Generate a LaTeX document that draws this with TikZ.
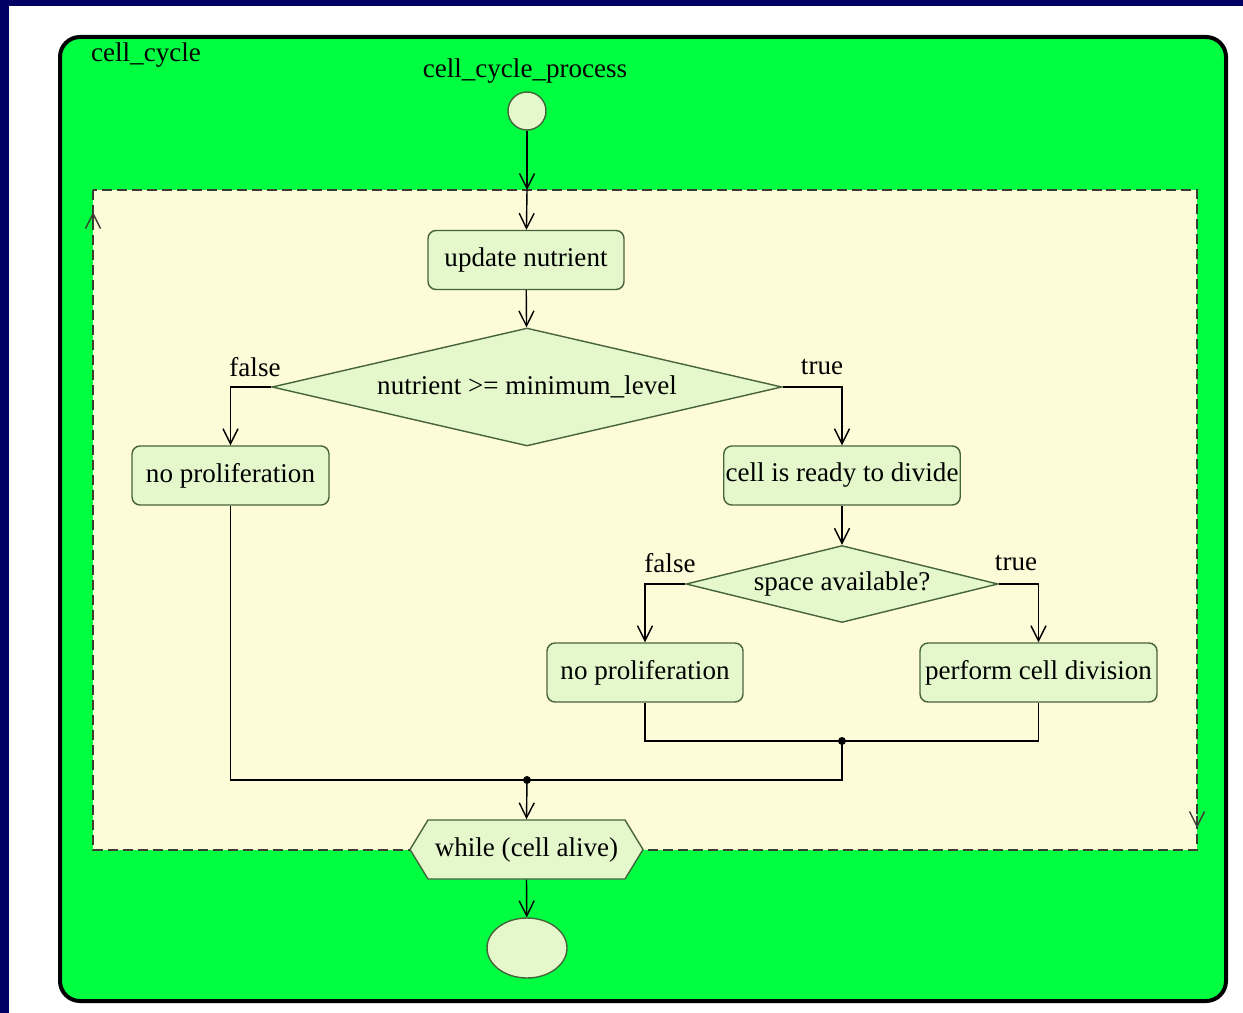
\documentclass[tikz,border=0pt]{standalone}
\usepackage{fontspec}
\setmainfont{Liberation Serif}
\usetikzlibrary{shapes.geometric,arrows.meta}

\definecolor{navyframe}{RGB}{0,0,100}
\definecolor{cellgreen}{RGB}{0,255,64}
\definecolor{regionfill}{RGB}{254,252,216}
\definecolor{nodefill}{RGB}{228,248,204}
\definecolor{nodeline}{RGB}{70,100,60}
\definecolor{dashgrey}{RGB}{60,60,50}

\tikzset{
  action/.style={draw=nodeline, fill=nodefill, rounded corners=0.16cm,
    minimum height=1.18cm, inner sep=1pt, line width=0.8pt},
  decision/.style={diamond, draw=nodeline, fill=nodefill, inner sep=0pt, line width=0.8pt},
  flow/.style={-{Straight Barb[length=0.3cm,width=0.3cm]}},
}

\begin{document}
\begin{tikzpicture}[x=0.02cm, y=-0.02cm, line width=0.8pt,
  font=\fontsize{15.4}{18}\selectfont]
\useasboundingbox (0,0) rectangle (1243,1013);
% frame
\fill[navyframe] (0,0) rectangle (1243,1013);
\fill[white] (9,6) rectangle (1243,1013);
\draw[line width=0.08cm, fill=cellgreen, rounded corners=0.4cm] (60,37) rectangle (1226,1001);
\draw[dashed, dash pattern=on 0.2cm off 0.1cm, draw=dashgrey, fill=regionfill] (93,190) rectangle (1197,850);
\draw[flow, draw=dashgrey] (93,224) -- (93,212);
\draw[flow, draw=dashgrey] (1197,816) -- (1197,828);

\node (outerlabel) at (146,55) {cell\_cycle};
\node (processlabel) at (525,71) {cell\_cycle\_process};

% nodes
\node[circle, draw=nodeline, fill=nodefill, minimum size=0.76cm, inner sep=0pt] (start) at (527,111) {};
\coordinate (entry) at (527,190);
\node[action, minimum width=3.92cm] (update) at (526,260) {update nutrient};
\node[decision, aspect=4.32, minimum width=10.2cm, minimum height=2.36cm] (check) at (527,387) {nutrient >= minimum\_level};
\node[action, minimum width=3.94cm] (noprolifA) at (230.5,475.5) {no proliferation};
\node[action, minimum width=4.72cm] (ready) at (842,475.5) {cell is ready to divide};
\node[decision, aspect=4.05, minimum width=6.24cm, minimum height=1.54cm] (space) at (842,584) {space available?};
\node[action, minimum width=3.92cm] (noprolifB) at (645,672.5) {no proliferation};
\node[action, minimum width=4.74cm] (divide) at (1038.5,672.5) {perform cell division};
\coordinate (joinA) at (842,741);
\coordinate (joinB) at (527,780);
\filldraw[draw=nodeline, fill=nodefill] (428,820) -- (410,849.5) -- (428,879) -- (625,879) -- (643,849.5) -- (625,820) -- cycle;
\node[minimum width=3.94cm, minimum height=1.18cm] (loop) at (526.5,849.5) {while (cell alive)};
\node[ellipse, draw=nodeline, fill=nodefill, minimum width=1.6cm, minimum height=1.2cm] (stop) at (527,948) {};

% labels
\node (falseA) at (255,367) {false};
\node (trueA) at (822,367) {true};
\node (falseB) at (670,563) {false};
\node (trueB) at (1016,563) {true};

% connectors
\draw[flow] (start) -- (entry);
\draw[flow] (entry) -- (update);
\draw[flow] (update) -- (check);
\draw[flow] (check.west) -| (noprolifA.north);
\draw[flow] (check.east) -| (ready.north);
\draw[flow] (ready) -- (space);
\draw[flow] (space.west) -| (noprolifB.north);
\draw[flow] (space.east) -| (divide.north);
\draw (noprolifB.south) |- (joinA) -| (divide.south);
\draw (noprolifA.south) |- (joinB) -| (joinA);
\fill (joinA) circle (0.08cm);
\fill (joinB) circle (0.08cm);
\draw[flow] (joinB) -- (loop.north);
\draw[flow] (loop.south) -- (stop);
\end{tikzpicture}
\end{document}
